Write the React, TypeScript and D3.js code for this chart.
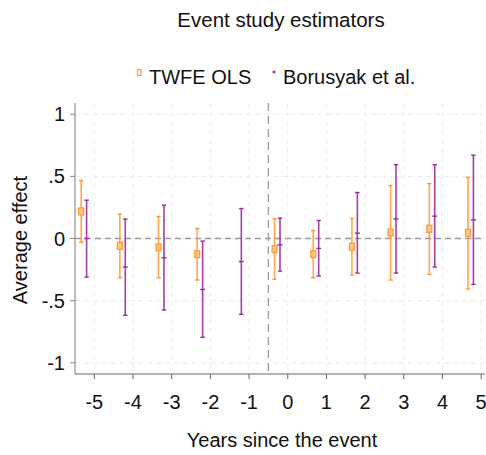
import React from "react";
import * as d3 from "d3";

const periods = [-5, -4, -3, -2, -1, 0, 1, 2, 3, 4, 5];
const xTicks = [-5, -4, -3, -2, -1, 0, 1, 2, 3, 4, 5];
const yTicks = [1, 0.5, 0, -0.5, -1];
const yTickLabels = ["1", ".5", "0", "-.5", "-1"];

// TWFE OLS (no estimate at -1)
const twfeEst = [0.217, -0.059, -0.072, -0.126, null, -0.085, -0.126, -0.067, 0.048, 0.078, 0.046];
const twfeLo = [-0.03, -0.316, -0.316, -0.334, null, -0.329, -0.316, -0.294, -0.334, -0.289, -0.406];
const twfeHi = [0.466, 0.198, 0.177, 0.08, null, 0.158, 0.064, 0.161, 0.426, 0.442, 0.493];

// Borusyak et al.
const bjsEst = [0.0, -0.23, -0.155, -0.41, -0.185, -0.051, -0.08, 0.043, 0.158, 0.18, 0.15];
const bjsLo = [-0.31, -0.618, -0.575, -0.795, -0.61, -0.262, -0.302, -0.278, -0.278, -0.23, -0.369];
const bjsHi = [0.308, 0.156, 0.268, -0.021, 0.241, 0.164, 0.145, 0.37, 0.594, 0.594, 0.67];

const W = 486;
const H = 455;
const ORANGE = "#ff9a2e";
const ORANGE_FILL = "#ffc58a";
const PURPLE = "#9b2aa3";
const FONT = "'Liberation Sans', Arial, Helvetica, sans-serif";

export default function App() {
  const x = d3.scaleLinear().domain([-5.5, 5.1]).range([75, 485]);
  const y = d3.scaleLinear().domain([-1.09, 1.09]).range([374, 103]);

  const twfeOff = -0.34;
  const bjsOff = -0.2;
  const cap = 2.2;

  return (
    <svg
      width={W}
      height={H}
      style={{ position: "absolute", left: 0, top: 0, background: "#fff" }}
      fontFamily={FONT}
    >
      <rect x={0} y={0} width={W} height={H} fill="#fff" />
      {/* title */}
      <text x={281} y={27} textAnchor="middle" fontSize={20.5} fill="#111">
        Event study estimators
      </text>

      {/* legend */}
      <rect x={137.5} y={69.5} width={3.5} height={6} fill="none" stroke={ORANGE} strokeWidth={1.2} />
      <text x={149} y={84} fontSize={20} fill="#111">TWFE OLS</text>
      <line x1={272} x2={276} y1={72} y2={72} stroke={PURPLE} strokeWidth={1} />
      <line x1={274} x2={274} y1={70} y2={74} stroke={PURPLE} strokeWidth={1} />
      <text x={283} y={84} fontSize={20} fill="#111">Borusyak et al.</text>

      {/* grid */}
      {xTicks.map((t) => (
        <line key={"gx" + t} x1={x(t)} x2={x(t)} y1={103} y2={374} stroke="#ececec" strokeWidth={1} strokeDasharray="5,4" />
      ))}
      {yTicks.map((t) => (
        <line key={"gy" + t} x1={75} x2={485} y1={y(t)} y2={y(t)} stroke="#ececec" strokeWidth={1} strokeDasharray="5,4" />
      ))}

      {/* reference lines */}
      <line x1={75} x2={485} y1={y(0)} y2={y(0)} stroke="#9a9a9a" strokeWidth={1.3} strokeDasharray="6,4" />
      <line x1={x(-0.5)} x2={x(-0.5)} y1={103} y2={374} stroke="#9a9a9a" strokeWidth={1.3} strokeDasharray="8,5" />

      {/* axes */}
      <line x1={75} x2={75} y1={103} y2={374} stroke="#a8a8a8" strokeWidth={1.5} />
      <line x1={75} x2={485} y1={374} y2={374} stroke="#666" strokeWidth={1} />
      {yTicks.map((t, i) => (
        <g key={"yt" + t}>
          <line x1={70} x2={75} y1={y(t)} y2={y(t)} stroke="#888" strokeWidth={1} />
          <text x={65} y={y(t) + 7} textAnchor="end" fontSize={20} fill="#111">
            {yTickLabels[i]}
          </text>
        </g>
      ))}
      {xTicks.map((t) => (
        <g key={"xt" + t}>
          <line x1={x(t)} x2={x(t)} y1={374} y2={379} stroke="#666" strokeWidth={1} />
          <text x={x(t)} y={409} textAnchor="middle" fontSize={20} fill="#111">
            {String(t)}
          </text>
        </g>
      ))}
      <text x={282} y={447} textAnchor="middle" fontSize={20} fill="#111">
        Years since the event
      </text>
      <text
        transform={`translate(27,240) rotate(-90)`}
        textAnchor="middle"
        fontSize={20}
        fill="#111"
      >
        Average effect
      </text>

      {/* TWFE */}
      {periods.map((p, i) => {
        if (twfeEst[i] === null) return null;
        const cx = x(p + twfeOff);
        return (
          <g key={"tw" + p}>
            <line x1={cx} x2={cx} y1={y(twfeLo[i] as number)} y2={y(twfeHi[i] as number)} stroke={ORANGE} strokeWidth={1.6} opacity={0.85} />
            <line x1={cx - cap} x2={cx + cap} y1={y(twfeLo[i] as number)} y2={y(twfeLo[i] as number)} stroke={ORANGE} strokeWidth={1.4} />
            <line x1={cx - cap} x2={cx + cap} y1={y(twfeHi[i] as number)} y2={y(twfeHi[i] as number)} stroke={ORANGE} strokeWidth={1.4} />
            <rect x={cx - 2.5} y={y(twfeEst[i] as number) - 3.5} width={5} height={7} fill={ORANGE_FILL} stroke={ORANGE} strokeWidth={1.2} />
          </g>
        );
      })}

      {/* Borusyak */}
      {periods.map((p, i) => {
        const cx = x(p + bjsOff);
        return (
          <g key={"bj" + p}>
            <line x1={cx} x2={cx} y1={y(bjsLo[i])} y2={y(bjsHi[i])} stroke={PURPLE} strokeWidth={1.6} opacity={0.9} />
            <line x1={cx - cap} x2={cx + cap} y1={y(bjsLo[i])} y2={y(bjsLo[i])} stroke={PURPLE} strokeWidth={1.4} />
            <line x1={cx - cap} x2={cx + cap} y1={y(bjsHi[i])} y2={y(bjsHi[i])} stroke={PURPLE} strokeWidth={1.4} />
            <line x1={cx - 2.5} x2={cx + 2.5} y1={y(bjsEst[i])} y2={y(bjsEst[i])} stroke={PURPLE} strokeWidth={1.4} />
          </g>
        );
      })}
    </svg>
  );
}
